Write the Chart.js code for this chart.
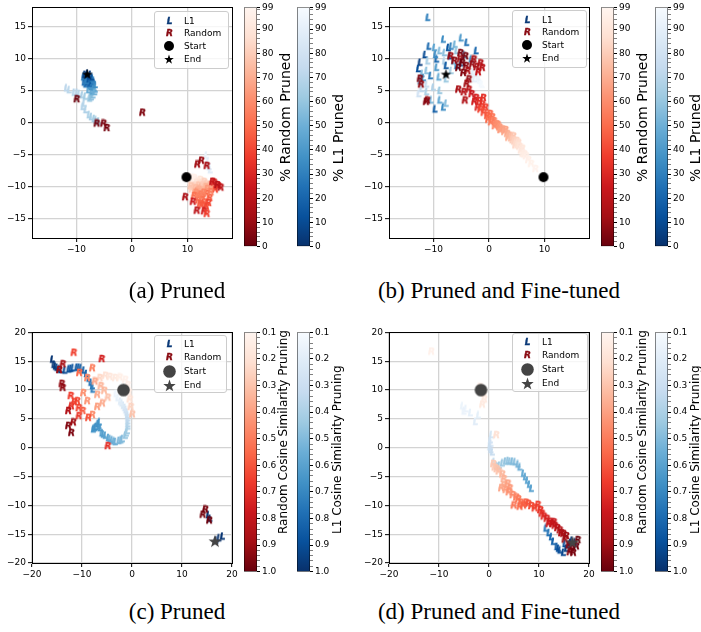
<!DOCTYPE html>
<html>
<head>
<meta charset="utf-8">
<script src="https://cdn.jsdelivr.net/npm/chart.js@4.4.0/dist/chart.umd.min.js"></script>
<style>
  body { margin: 0; background: #fff; }
  #fig { position: relative; width: 701px; height: 632px; overflow: hidden; font-family: "DejaVu Sans"; color: #000; }
  #fig canvas { position: absolute; }
  .cap { position: absolute; font-family: "Liberation Serif"; font-size: 23px; transform: translate(-50%, -50%); white-space: nowrap; }
  .cbl { position: absolute; white-space: nowrap; line-height: 1; transform-origin: 0 0; transform: rotate(-90deg) translate(0, -50%); }
  .leg { position: absolute; background: rgba(255,255,255,0.8); border: 1px solid #cccccc; border-radius: 3px; box-sizing: border-box; font-size: 9px; }
  .leg span { position: absolute; line-height: 1; transform: translateY(-50%); white-space: nowrap; }
</style>
</head>
<body>
<div id="fig"></div>
<script>
// ---- data: [x, y, colour value] ----
const aL1 = [
  [13.4,-5.2,92],[13.7,-6.2,90],[14.1,-7.5,88],[13.9,-7.0,86],[11.0,-8.6,97],[11.5,-9.0,95],
  [-6.0,0.1,62],[-6.5,0.3,63],[-6.8,0.5,64],[-7.3,0.8,65],[-7.7,1.1,66],[-8.3,1.9,67],[-8.8,2.4,68],[-8.6,2.9,69],
  [-11.8,5.3,72],[-11.3,5.0,71],[-10.4,4.6,70],[-9.9,4.6,70],[-9.5,4.4,69],[-8.9,4.2,66],[-8.4,4.0,64],[-7.6,3.7,60],[-7.3,3.9,58],[-7.0,4.2,55],
  [-7.2,4.8,45],[-6.8,5.3,42],[-7.0,5.8,40],[-6.6,5.1,44],[-7.3,5.5,38],[-6.9,6.2,35],
  [-7.8,5.0,48],[-7.5,5.6,40],[-6.7,4.7,50],[-6.6,5.8,36],
  [-8.6,6.2,25],[-8.4,6.9,20],[-8.2,7.2,15],[-7.9,7.0,12],[-7.6,6.8,18],[-7.4,6.4,22],[-7.8,6.5,10],[-8.1,6.6,8],
  [-7.5,7.4,5],[-8.0,7.6,2],[-8.7,7.0,28],[-7.1,6.8,30],[-6.9,6.5,32],[-8.3,5.9,26],[-7.6,6.0,24],[-8.0,6.2,16],
  [-8.2,6.4,30],[-7.2,7.0,10],[-8.5,7.4,6]
];
const aRnd = [
  [10.4,-8.6,98],[10.8,-8.8,97],[11.2,-8.7,96],[10.6,-9.2,95],[11.5,-9.1,94],[11.9,-9.3,92],[12.3,-9.0,90],[11.0,-9.6,91],[12.6,-9.5,88],
  [10.9,-9.0,96],[11.6,-9.5,90],[12.2,-9.6,86],[11.3,-9.9,84],[10.8,-10.5,80],
  [13.0,-9.3,82],[13.4,-9.7,80],[12.0,-9.9,78],[13.8,-10.0,76],[12.5,-10.2,74],[14.2,-9.8,72],[11.4,-10.3,75],[13.1,-10.6,70],[14.6,-10.2,68],[10.6,-10.0,77],[11.8,-10.8,65],
  [12.8,-9.9,80],[13.3,-10.1,72],[12.1,-10.5,70],[13.6,-10.4,64],[11.5,-11.0,62],
  [12.4,-11.3,55],[13.5,-11.2,50],[11.2,-11.5,52],[12.0,-12.2,48],[13.0,-12.5,45],[13.4,-13.2,42],[12.6,-13.0,44],[14.0,-11.8,46],[15.0,-10.5,40],[15.6,-10.0,35],
  [12.7,-11.7,52],[13.8,-12.6,40],[12.3,-12.7,46],[14.2,-10.9,56],[12.0,-11.6,57],
  [14.8,-9.4,30],[12.9,-11.0,58],[11.0,-12.4,25],[9.6,-11.7,15],[11.7,-13.8,20],[13.0,-13.9,28],[13.5,-14.3,38],
  [11.8,-6.6,12],[12.5,-6.0,10],[13.5,-6.8,14],[14.5,-9.3,22],[15.4,-9.8,18],[16.0,-10.2,20],
  [1.9,1.5,5],[-4.5,-0.9,3],[-5.1,-0.2,4],[-6.3,-0.2,2],[-9.9,3.6,1]
];
const aStart = [9.8, -8.5];
const aEnd = [-8.05, 7.6];

const bL1 = [
  [-11.0,16.3,30],[-8.2,12.9,35],[-5.0,13.1,40],[-4.0,12.4,25],[-2.3,11.1,20],[-9.8,11.6,45],[-11.5,10.5,10],[-8.85,11.1,55],
  [-7.0,10.3,8],[-6.1,12.1,50],[-5.8,11.1,60],[-7.3,11.6,15],[-12.4,9.3,5],[-11.0,9.5,65],[-9.4,9.8,20],[-8.0,9.5,70],
  [-12.7,8.3,12],[-11.2,8.0,58],[-9.4,8.5,40],[-7.7,6.7,62],[-12.4,6.4,50],[-11.2,5.9,75],[-10.0,5.4,68],[-12.1,5.2,72],
  [-12.6,4.4,80],[-11.2,4.7,66],[-8.85,3.4,45],[-9.7,2.0,18],[-8.2,2.3,35],[-7.7,2.9,55],[-8.85,4.9,60],[-5.8,8.8,30],
  [-6.4,9.5,52],[-5.0,9.2,25],[-10.5,7.2,28],[-9.0,7.0,48],[-6.8,8.0,64],[-4.5,10.5,44],[-3.2,9.8,38],[-10.8,11.8,22],
  [-12.0,7.5,54],[-8.0,10.8,58],[-9.6,10.5,35],[-6.8,11.8,30],[-7.7,8.8,15],[-11.8,6.9,42],[-10.4,3.4,52],
  [-2.3,7.5,92],[-1.7,6.5,95],[-2.6,6.7,90],[-1.4,6.0,97],[-2.0,7.0,93],[-1.2,5.8,98],[-2.8,7.8,88]
];
const bRnd = [
  [-12.4,6.8,5],[-12.2,5.9,8],[-11.1,3.4,10],[-11.3,3.2,6],[-5.1,10.8,4],[-5.2,9.8,12],[-4.2,10.3,3],[-4.1,8.8,7],
  [-3.8,8.0,15],[-3.6,6.7,9],[-5.5,5.1,14],[-4.5,4.7,18],[-3.6,5.1,20],[-4.3,3.4,16],[-6.9,10.3,11],[-2.7,9.8,13],
  [-1.5,9.2,17],[-1.2,8.5,19],[-1.9,7.8,22],[-5.5,8.5,2],[-4.6,7.7,6],[-4.8,9.3,1],
  [-3.0,9.0,10],[-2.2,8.6,14],[-6.2,9.6,8],[-4.0,6.0,12],[-3.1,4.4,24],[-2.6,3.2,26],
  [-2.3,3.8,28],[-1.7,3.3,32],[-1.2,2.8,35],[-2.0,2.3,30],[-0.6,2.3,38],[-1.0,3.8,33],[-1.5,2.0,40],[-0.9,1.5,42],
  [-0.3,1.0,45],[0.2,1.3,48],[-0.1,0.4,50],[0.6,0.8,52],[0.4,0.0,54],[0.9,0.2,56],[1.1,-0.6,58],[1.4,-0.3,60],
  [1.6,-0.4,61],[1.9,-0.8,63],[2.1,-1.2,64],[2.4,-1.1,66],[3.0,-1.2,67],[2.8,-1.5,68],[3.3,-1.8,70],[3.5,-2.4,72],
  [3.7,-2.1,73],[4.0,-2.5,76],[4.4,-2.2,78],[4.3,-2.8,80],[4.6,-3.0,82],[5.0,-2.9,83],[4.8,-3.6,84],[4.9,-3.3,85],
  [5.3,-3.2,86],[5.2,-3.6,87],[5.5,-3.8,89],[6.0,-4.1,90],[5.8,-4.4,91],[6.1,-4.9,93],[6.4,-5.0,94],[6.7,-5.3,95],
  [7.1,-5.9,96],[7.6,-6.5,97],[8.4,-7.3,98]
];
const bStart = [9.8, -8.5];
const bEnd = [-7.75, 7.6];

const cL1 = [
  [-15.9,15.2,0.98],[-15.6,14.3,0.97],[-15.3,14.0,0.96],[-15.0,13.8,0.95],[-14.6,13.5,0.94],[-14.2,13.4,0.93],[-13.4,13.3,0.92],
  [-12.6,13.5,0.9],[-12.2,13.6,0.89],[-11.8,13.7,0.88],[-11.0,13.8,0.87],[-10.6,13.8,0.86],[-10.2,13.7,0.86],[-9.6,13.3,0.84],
  [-9.1,12.7,0.82],[-8.6,11.9,0.8],[-8.2,11.2,0.77],[-7.9,10.6,0.75],[-7.8,10.0,0.72],
  [-7.7,3.1,0.66],[-7.4,3.3,0.66],[-7.2,3.5,0.67],[-6.8,4.0,0.68],[-6.6,3.7,0.65],[-6.5,4.3,0.66],[-6.3,3.3,0.64],[-6.0,2.4,0.62],
  [-5.7,2.2,0.61],[-5.3,2.0,0.6],[-4.7,1.6,0.58],[-4.4,1.4,0.57],[-4.0,1.2,0.56],[-3.6,1.0,0.55],[-3.3,0.9,0.54],[-2.6,1.1,0.52],
  [-2.2,1.2,0.51],[-1.9,1.4,0.5],[-1.3,2.0,0.46],[-1.1,2.4,0.45],[-0.9,2.8,0.43],[-0.8,3.6,0.4],[-0.8,4.0,0.38],[-0.8,4.5,0.36],
  [-0.8,5.0,0.34],[-0.9,5.5,0.32],[-1.0,6.0,0.3],[-1.2,6.4,0.28],[-1.4,6.8,0.26],[-1.7,7.2,0.24],[-2.0,7.6,0.22],[-2.3,7.9,0.2],
  [-2.8,8.5,0.17],[-3.2,9.2,0.14],
  [15.3,-11.8,0.97],[15.6,-12.4,0.98],[16.8,-16.2,1.0],[17.4,-15.8,0.99],[18.1,-15.5,0.98]
];
const cRnd = [
  [-5.3,12.4,0.2],[-4.4,12.2,0.18],[-3.3,12.0,0.16],[-2.4,12.1,0.14],[-1.3,11.7,0.12],[-0.8,10.8,0.13],[-0.6,9.5,0.16],
  [-0.4,8.3,0.2],[-0.2,7.0,0.25],[0.1,5.7,0.3],[-6.4,12.0,0.24],
  [-4.8,8.6,0.3],[-5.5,9.8,0.32],[-6.9,9.1,0.36],[-6.9,7.0,0.4],[-7.9,5.6,0.45],[-8.9,8.0,0.42],[-9.7,9.4,0.44],[-8.9,12.0,0.46],
  [-7.9,13.7,0.48],[-6.2,10.6,0.34],[-7.4,11.4,0.38],[-5.9,7.6,0.36],
  [-10.9,8.0,0.62],[-10.6,6.8,0.64],[-12.1,7.1,0.7],[-10.6,5.4,0.68],[-8.7,5.1,0.6],[-12.2,8.9,0.66],[-10.5,12.9,0.55],[-11.5,7.8,0.65],[-9.8,6.3,0.58],
  [-13.8,14.4,0.88],[-14.5,13.4,0.9],[-14.0,11.0,0.92],[-13.8,10.3,0.93],[-12.7,6.3,0.85],[-12.7,3.7,0.95],[-12.1,2.5,0.96],[-11.7,4.3,0.9],
  [-11.6,16.4,0.65],[-6.0,15.3,0.75],[-4.8,0.2,0.7],
  [14.7,-10.8,0.97],[14.2,-11.7,0.98],[15.5,-12.7,0.99]
];
const cStart = [-1.7, 10.0];
const cEnd = [16.6, -16.2];

const dL1 = [
  [-5.3,7.1,0.15],[-4.6,6.6,0.16],[-3.7,5.9,0.17],[-2.7,4.4,0.2],[-2.1,5.5,0.18],[-5.0,6.2,0.16],
  [0.5,2.1,0.25],[0.3,1.2,0.27],[0.4,0.6,0.28],[0.2,0.0,0.3],[0.4,-0.5,0.31],[0.7,-0.9,0.32],[1.0,-2.6,0.36],[1.5,-3.3,0.4],
  [1.8,-3.4,0.41],[2.1,-3.2,0.42],[2.7,-2.8,0.44],[3.3,-2.5,0.46],[3.8,-2.4,0.47],[4.2,-2.5,0.48],[4.7,-2.5,0.49],[5.2,-2.6,0.5],
  [5.8,-3.0,0.52],[6.2,-3.5,0.54],[6.9,-4.6,0.56],[7.3,-5.2,0.57],[7.7,-5.8,0.58],[8.1,-6.5,0.6],[8.5,-7.2,0.6],
  [11.4,-14.1,0.75],[12.0,-14.9,0.78],[12.5,-15.6,0.8],[12.9,-16.4,0.82],[13.6,-17.3,0.86],[13.9,-17.6,0.88],[14.2,-17.9,0.9],
  [14.9,-18.3,0.92],[15.5,-17.6,0.94],[16.0,-17.0,0.96],[16.3,-16.6,0.97],[16.6,-16.2,0.98],[17.2,-16.5,1.0],[15.2,-16.8,0.9]
];
const dRnd = [
  [-11.5,16.6,0.12],[-1.8,10.5,0.12],[-1.0,9.3,0.14],[-1.3,7.4,0.16],[-0.9,8.3,0.15],
  [1.5,2.1,0.2],[0.9,-2.9,0.28],[1.2,-3.5,0.29],[1.6,-3.8,0.3],[2.0,-4.2,0.31],[2.7,-4.7,0.33],[3.0,-5.5,0.35],[3.0,-6.6,0.37],
  [2.5,-7.1,0.38],[3.4,-7.4,0.4],[3.8,-6.3,0.4],[4.2,-7.1,0.42],[4.0,-7.8,0.44],[4.8,-8.3,0.46],[5.5,-8.7,0.48],[5.9,-9.0,0.5],
  [5.0,-10.1,0.52],[6.4,-9.6,0.54],[6.2,-10.3,0.55],[6.9,-10.1,0.57],[7.4,-9.6,0.58],[7.9,-9.8,0.6],[8.5,-10.2,0.62],[9.2,-10.6,0.64],
  [9.8,-10.0,0.66],[10.3,-10.9,0.68],[10.6,-11.5,0.7],
  [11.0,-12.0,0.72],[11.6,-12.4,0.74],[12.2,-12.9,0.76],[12.0,-13.3,0.77],[12.7,-13.3,0.78],[13.0,-13.0,0.79],[13.2,-13.6,0.8],
  [13.7,-14.0,0.82],[14.2,-14.4,0.84],[14.5,-14.9,0.86],[14.9,-15.0,0.87],[15.5,-15.4,0.9],[15.2,-16.0,0.9],[16.0,-17.0,0.93],
  [16.2,-18.2,0.95],[16.6,-17.6,0.96],[16.9,-18.3,0.97],[17.5,-17.2,0.99],[17.8,-16.1,1.0]
];
const dStart = [-1.6, 10.0];
const dEnd = [16.7, -16.4];

// ---- tick labels ----
const ticksAB = { x: [-10, 0, 10], y: [-15, -10, -5, 0, 5, 10, 15] };
const ticksCD = { x: [-20, -10, 0, 10, 20], y: [-20, -15, -10, -5, 0, 5, 10, 15, 20] };
const pctTicks = [0, 10, 20, 30, 40, 50, 60, 70, 80, 90, 99];
const cosTicks = [0.1, 0.2, 0.3, 0.4, 0.5, 0.6, 0.7, 0.8, 0.9, 1.0];
const captions = ['(a) Pruned', '(b) Pruned and Fine-tuned', '(c) Pruned', '(d) Pruned and Fine-tuned'];

// matplotlib Blues / Reds
const BLUES = ['#f7fbff','#deebf7','#c6dbef','#9ecae1','#6baed6','#4292c6','#2171b5','#08519c','#08306b'];
const REDS = ['#fff5f0','#fee0d2','#fcbba1','#fc9272','#fb6a4a','#ef3b2c','#cb181d','#a50f15','#67000d'];

function hex(h) { return [1, 3, 5].map(i => parseInt(h.substr(i, 2), 16)); }
function cmap(stops, u) {
  u = Math.min(1, Math.max(0, u));
  const p = u * (stops.length - 1), i = Math.min(stops.length - 2, Math.floor(p)), f = p - i;
  const a = hex(stops[i]), b = hex(stops[i + 1]);
  return 'rgb(' + a.map((c, k) => Math.round(c + (b[k] - c) * f)).join(',') + ')';
}

const fig = document.getElementById('fig');
Chart.defaults.font.family = '"DejaVu Sans"';
Chart.defaults.font.size = 9;
Chart.defaults.color = '#000';

const markCache = {};
function letterMark(letter, color) {
  const key = letter + color;
  if (markCache[key]) return markCache[key];
  const c = document.createElement('canvas');
  c.width = 11; c.height = 11;
  const g = c.getContext('2d');
  g.font = 'italic bold 9px "DejaVu Sans"';
  g.fillStyle = color;
  g.strokeStyle = color;
  g.lineWidth = 0.4;
  g.textAlign = 'center';
  g.textBaseline = 'middle';
  g.fillText(letter, 5.5, 6);
  g.strokeText(letter, 5.5, 6);
  markCache[key] = c;
  return c;
}
function starMark(r, color) {
  const s = Math.ceil(r * 2 + 2);
  const c = document.createElement('canvas');
  c.width = s; c.height = s;
  const g = c.getContext('2d');
  g.fillStyle = color;
  g.beginPath();
  for (let i = 0; i < 10; i++) {
    const rad = i % 2 ? r * 0.4 : r;
    const a = -Math.PI / 2 + i * Math.PI / 5;
    g.lineTo(s / 2 + rad * Math.cos(a), s / 2 + 0.6 + rad * Math.sin(a));
  }
  g.closePath();
  g.fill();
  return c;
}
function dotMark(r, color) {
  const s = Math.ceil(r * 2 + 2);
  const c = document.createElement('canvas');
  c.width = s; c.height = s;
  const g = c.getContext('2d');
  g.fillStyle = color;
  g.beginPath(); g.arc(s / 2, s / 2, r, 0, Math.PI * 2); g.fill();
  return c;
}

const minus = v => String(v).replace('-', '\u2212');
const toPts = arr => arr.map(p => ({ x: p[0], y: p[1], v: p[2] }));

function frameAxis(axis, pos) {
  return {
    type: 'linear', axis: axis, position: pos,
    ticks: { display: false }, grid: { display: false },
    border: { display: true, color: '#000', width: 1 },
    afterFit: s => { if (axis === 'x') s.height = 0; else s.width = 0; }
  };
}
function mainAxis(range, ticks, size) {
  return {
    type: 'linear', min: -range, max: range,
    afterBuildTicks: s => { s.ticks = ticks.map(v => ({ value: v })); },
    ticks: { callback: v => minus(v), padding: 2, maxRotation: 0, autoSkip: false, font: { size: 9 } },
    grid: { color: '#d3d3d3', lineWidth: 1.3, tickColor: '#000', tickLength: 4, tickWidth: 1 },
    border: { color: '#000', width: 1 },
    afterFit: size
  };
}

function scatterPanel(p) {
  const cv = document.createElement('canvas');
  cv.width = 240; cv.height = 260;
  cv.style.left = p.left + 'px'; cv.style.top = p.top + 'px';
  fig.appendChild(cv);
  const redOf = p.cos ? v => cmap(REDS, (v - 0.1) / 0.9) : v => cmap(REDS, 1 - v / 99);
  const blueOf = p.cos ? v => cmap(BLUES, (v - 0.1) / 0.9) : v => cmap(BLUES, 1 - v / 99);
  new Chart(cv, {
    type: 'scatter',
    data: {
      datasets: [
        { label: 'Start', data: [{ x: p.start[0], y: p.start[1] }], pointStyle: dotMark(p.sr, p.mc), order: 0 },
        { label: 'End', data: [{ x: p.end[0], y: p.end[1] }], pointStyle: starMark(p.er, p.mc), order: 1 },
        { label: 'Random', data: toPts(p.rnd), order: 2,
          pointStyle: c => c.raw ? letterMark('R', redOf(c.raw.v)) : 'circle' },
        { label: 'L1', data: toPts(p.l1), order: 3,
          pointStyle: c => c.raw ? letterMark('L', blueOf(c.raw.v)) : 'circle' }
      ]
    },
    options: {
      animation: false, responsive: false, devicePixelRatio: 1, events: [],
      layout: { padding: { top: 5, right: 8, left: 0, bottom: 0 } },
      plugins: { legend: { display: false }, tooltip: { enabled: false } },
      scales: {
        x: mainAxis(p.range, p.ticks.x, s => { s.height = 22; }),
        y: mainAxis(p.range, p.ticks.y, s => { s.width = 32; }),
        x2: frameAxis('x', 'top'),
        y2: frameAxis('y', 'right')
      }
    }
  });
}

function colorbar(left, top, h, stops, cos) {
  const w = 13;
  const cv = document.createElement('canvas');
  cv.width = w + 30; cv.height = h + 12;
  cv.style.left = left + 'px'; cv.style.top = (top - 6) + 'px';
  fig.appendChild(cv);
  const majors = cos ? cosTicks : pctTicks;
  const ticks = majors.map(v => ({ value: v, mj: true }));
  if (cos) { for (let i = 10; i <= 100; i += 2) if (i % 10) ticks.push({ value: i / 100, mj: false }); }
  else { for (let i = 0; i < 99; i += 2) if (i % 10) ticks.push({ value: i, mj: false }); }
  ticks.sort((a, b) => a.value - b.value);
  new Chart(cv, {
    type: 'bar',
    data: {
      labels: [''],
      datasets: [{
        data: [cos ? [0.1, 1.0] : [0, 99]],
        backgroundColor: c => {
          const a = c.chart.chartArea;
          if (!a) return '#fff';
          const g = c.chart.ctx.createLinearGradient(0, a.bottom, 0, a.top);
          for (let i = 0; i <= 16; i++) g.addColorStop(i / 16, cmap(stops, 1 - i / 16));
          return g;
        },
        borderColor: '#000', borderWidth: 0.8, borderSkipped: false,
        barPercentage: 1, categoryPercentage: 1
      }]
    },
    options: {
      animation: false, responsive: false, devicePixelRatio: 1, events: [],
      layout: { padding: { top: 6, bottom: 6, left: 0, right: 0 } },
      plugins: { legend: { display: false }, tooltip: { enabled: false } },
      scales: {
        x: { display: false },
        y: {
          position: 'right', min: cos ? 0.1 : 0, max: cos ? 1.0 : 99, reverse: cos,
          afterBuildTicks: s => { s.ticks = ticks.map(t => ({ value: t.value, mj: t.mj })); },
          ticks: {
            autoSkip: false, padding: 2, font: { size: 9 },
            callback: (v, i, arr) => arr[i].mj ? (cos ? v.toFixed(1) : String(v)) : ''
          },
          grid: {
            drawOnChartArea: false, tickLength: 3, tickColor: '#000',
            tickWidth: c => (c.tick && c.tick.mj) ? 1 : 0.5
          },
          border: { display: false },
          afterFit: s => { s.width = 30; }
        }
      }
    }
  });
}

function cbLabel(text, cx, bottom, size) {
  const d = document.createElement('div');
  d.className = 'cbl';
  d.textContent = text;
  d.style.fontSize = size + 'px';
  d.style.left = cx + 'px';
  d.style.top = bottom + 'px';
  fig.appendChild(d);
}

function legend(box, rows, big) {
  const d = document.createElement('div');
  d.className = 'leg';
  Object.assign(d.style, { left: box[0] + 'px', top: box[1] + 'px', width: box[2] + 'px', height: box[3] + 'px' });
  const mc = big ? '#444' : '#000';
  const marks = [letterMark('L', '#0b3a78'), letterMark('R', '#8a0b13'),
                 dotMark(big ? 6.3 : 5, mc), starMark(big ? 6.5 : 5, mc)];
  ['L1', 'Random', 'Start', 'End'].forEach((t, i) => {
    const m = marks[i];
    const c = document.createElement('canvas');
    c.width = m.width; c.height = m.height;
    c.getContext('2d').drawImage(m, 0, 0);
    c.style.left = (14 - m.width / 2) + 'px';
    c.style.top = (rows[i] - m.height / 2) + 'px';
    d.appendChild(c);
    const s = document.createElement('span');
    s.textContent = t;
    s.style.left = '29px';
    s.style.top = rows[i] + 'px';
    d.appendChild(s);
  });
  fig.appendChild(d);
}

function caption(text, cx, cy) {
  const d = document.createElement('div');
  d.className = 'cap';
  d.textContent = text;
  d.style.left = cx + 'px';
  d.style.top = cy + 'px';
  fig.appendChild(d);
}

const panels = [
  { left: 0, top: 0, range: 18, ticks: ticksAB, l1: aL1, rnd: aRnd, start: aStart, end: aEnd, cos: false, sr: 5, er: 5.5, mc: '#000' },
  { left: 357, top: 0, range: 18, ticks: ticksAB, l1: bL1, rnd: bRnd, start: bStart, end: bEnd, cos: false, sr: 5, er: 5.5, mc: '#000' },
  { left: 0, top: 325, range: 20, ticks: ticksCD, l1: cL1, rnd: cRnd, start: cStart, end: cEnd, cos: true, sr: 6.3, er: 6.8, mc: '#444' },
  { left: 357, top: 325, range: 20, ticks: ticksCD, l1: dL1, rnd: dRnd, start: dStart, end: dEnd, cos: true, sr: 6.3, er: 6.8, mc: '#444' }
];
panels.forEach(scatterPanel);

colorbar(244, 6, 242, REDS, false);
colorbar(297, 6, 242, BLUES, false);
colorbar(601, 6, 242, REDS, false);
colorbar(655, 6, 242, BLUES, false);
colorbar(244, 331, 242, REDS, true);
colorbar(297, 331, 242, BLUES, true);
colorbar(601, 331, 242, REDS, true);
colorbar(655, 331, 242, BLUES, true);

cbLabel('% Random Pruned', 285, 182, 14);
cbLabel('% L1 Pruned', 338, 182, 14);
cbLabel('% Random Pruned', 642, 182, 14);
cbLabel('% L1 Pruned', 695, 182, 14);
cbLabel('Random Cosine Similarity Pruning', 283, 534, 12);
cbLabel('L1 Cosine Similarity Pruning', 337, 534, 12);
cbLabel('Random Cosine Similarity Pruning', 642, 534, 12);
cbLabel('L1 Cosine Similarity Pruning', 695, 534, 12);

legend([154, 11, 75, 58], [9, 21, 34, 47], false);
legend([512, 10, 75, 58], [9, 21, 34, 47], false);
legend([154, 335, 73, 58], [8, 21, 35, 49], true);
legend([512, 333, 76, 59], [8, 21, 35, 49], true);

caption(captions[0], 177, 291);
caption(captions[1], 499, 291);
caption(captions[2], 177, 612);
caption(captions[3], 499, 612);
</script>
</body>
</html>
